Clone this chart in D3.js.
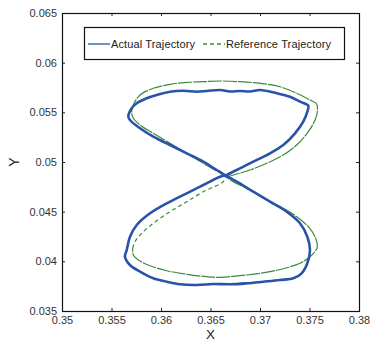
<!DOCTYPE html>
<html>
<head>
<meta charset="utf-8">
<script src="https://cdn.jsdelivr.net/npm/d3@7"></script>
<style>
  body { margin: 0; background: #fff; }
  text { font-family: "Liberation Sans", Arial, sans-serif; }
</style>
</head>
<body>
<div id="chart"></div>
<script>
// tick values
const xTicks = [0.35, 0.355, 0.36, 0.365, 0.37, 0.375, 0.38];
const yTicks = [0.035, 0.04, 0.045, 0.05, 0.055, 0.06, 0.065];

// reference trajectory (figure eight), solid looking part
const refSolid = [
  [0.36657, 0.048489], [0.36899, 0.049194], [0.37068, 0.049869], [0.37235, 0.050704],
  [0.37371, 0.051711], [0.37488, 0.053050], [0.37556, 0.054228], [0.37579, 0.055063],
  [0.37573, 0.055839], [0.37505, 0.056241], [0.37371, 0.056916], [0.37202, 0.057580],
  [0.37000, 0.057923], [0.36798, 0.058084], [0.36596, 0.058154], [0.36427, 0.058084],
  [0.36260, 0.058023], [0.36091, 0.057822], [0.35922, 0.057419], [0.35788, 0.056745],
  [0.35720, 0.055738], [0.35704, 0.055063], [0.35720, 0.054399], [0.35788, 0.053725],
  [0.35922, 0.052889], [0.36091, 0.051882], [0.36260, 0.050875], [0.36427, 0.049869],
  [0.36596, 0.048892], [0.36657, 0.048489], [0.36730, 0.048016], [0.36899, 0.047180],
  [0.37068, 0.046174], [0.37235, 0.045338], [0.37371, 0.044493], [0.37488, 0.043486],
  [0.37556, 0.042479], [0.37579, 0.041472], [0.37566, 0.041140], [0.37505, 0.040466],
  [0.37404, 0.039801], [0.37270, 0.039358], [0.37101, 0.038955], [0.36866, 0.038623],
  [0.36596, 0.038392], [0.36462, 0.038452], [0.36260, 0.038693], [0.36058, 0.039056],
  [0.35889, 0.039560], [0.35771, 0.040133], [0.35720, 0.040637], [0.35714, 0.041311]
];

// reference trajectory, lower-left branch where the dashes show
const refDashed = [
  [0.35714, 0.041311], [0.35737, 0.041976], [0.35805, 0.042821], [0.35922, 0.043828],
  [0.36091, 0.044996], [0.36260, 0.046003], [0.36427, 0.047010], [0.36629, 0.048016],
  [0.36657, 0.048489]
];

// measured (actual) trajectory
const actual = [
  [0.36664, 0.048691], [0.36798, 0.049365], [0.36932, 0.050030], [0.37101, 0.050875],
  [0.37235, 0.051711], [0.37354, 0.052889], [0.37437, 0.054057], [0.37478, 0.055063],
  [0.37488, 0.055667], [0.37404, 0.056070], [0.37303, 0.056573], [0.37169, 0.056916],
  [0.37000, 0.057248], [0.36899, 0.057097], [0.36798, 0.057147], [0.36697, 0.057097],
  [0.36596, 0.057248], [0.36462, 0.057147], [0.36361, 0.057077], [0.36225, 0.057178],
  [0.36091, 0.057077], [0.35957, 0.056745], [0.35856, 0.056412], [0.35755, 0.055909],
  [0.35704, 0.055406], [0.35670, 0.054560], [0.35687, 0.054228], [0.35788, 0.053392],
  [0.35922, 0.052547], [0.36091, 0.051711], [0.36260, 0.050875], [0.36427, 0.050030],
  [0.36563, 0.049194], [0.36664, 0.048590], [0.36765, 0.048016], [0.36932, 0.047010],
  [0.37101, 0.046003], [0.37270, 0.044996], [0.37404, 0.043828], [0.37478, 0.042479],
  [0.37505, 0.041140], [0.37478, 0.039801], [0.37421, 0.038794], [0.37336, 0.038291],
  [0.37202, 0.038120], [0.37033, 0.037949], [0.36866, 0.037788], [0.36697, 0.037687],
  [0.36528, 0.037717], [0.36361, 0.037617], [0.36192, 0.037687], [0.36058, 0.037949],
  [0.35922, 0.038291], [0.35788, 0.038955], [0.35687, 0.039630], [0.35636, 0.040466],
  [0.35654, 0.041140], [0.35687, 0.042479], [0.35755, 0.043657], [0.35889, 0.044835],
  [0.36058, 0.045842], [0.36260, 0.046848], [0.36427, 0.047684], [0.36596, 0.048520],
  [0.36664, 0.048691]
];

const margin = { top: 13, right: 11, bottom: 32, left: 62 },
      width = 370 - margin.left - margin.right,
      height = 343 - margin.top - margin.bottom;

const blue = "#2853a8", green = "#3a8a3e";

const svg = d3.select("#chart")
  .append("svg")
  .attr("width", width + margin.left + margin.right)
  .attr("height", height + margin.top + margin.bottom)
  .append("g")
  .attr("transform", `translate(${margin.left},${margin.top})`);

const x = d3.scaleLinear().domain([0.35, 0.38]).range([0, width]);
const y = d3.scaleLinear().domain([0.035, 0.065]).range([height, 0]);

const fmt = d => String(+d.toFixed(3));

// axes with inward ticks on all four sides
svg.append("g")
  .attr("transform", `translate(0,${height})`)
  .call(d3.axisBottom(x).tickValues(xTicks).tickFormat(fmt).tickSize(-3).tickPadding(5));
svg.append("g")
  .call(d3.axisLeft(y).tickValues(yTicks).tickFormat(fmt).tickSize(-3).tickPadding(5));
svg.append("g")
  .call(d3.axisTop(x).tickValues(xTicks).tickFormat("").tickSize(-3));
svg.append("g")
  .attr("transform", `translate(${width},0)`)
  .call(d3.axisRight(y).tickValues(yTicks).tickFormat("").tickSize(-3));

svg.selectAll(".domain").remove();
svg.selectAll(".tick line").attr("stroke", "#222");
svg.selectAll(".tick text")
  .attr("font-size", 11)
  .attr("font-family", "Liberation Sans, Arial, sans-serif")
  .attr("fill", "#333");

// frame
svg.append("rect")
  .attr("x", 0.5).attr("y", 0.5)
  .attr("width", width).attr("height", height)
  .attr("fill", "none")
  .attr("stroke", "#111")
  .attr("stroke-width", 1.2);

// axis titles
svg.append("text")
  .attr("x", width / 2)
  .attr("y", height + 28)
  .attr("text-anchor", "middle")
  .attr("font-size", 13.5)
  .attr("fill", "#222")
  .text("X");

svg.append("text")
  .attr("transform", "rotate(-90)")
  .attr("x", -y(0.05))
  .attr("y", -margin.left + 19)
  .attr("text-anchor", "middle")
  .attr("font-size", 14)
  .attr("fill", "#222")
  .text("Y");

const line = d3.line()
  .x(d => x(d[0]))
  .y(d => y(d[1]))
  .curve(d3.curveCatmullRom.alpha(0.5));

// reference trajectory
svg.append("path")
  .datum(refSolid)
  .attr("d", line)
  .attr("fill", "none")
  .attr("stroke", green)
  .attr("stroke-width", 1.2)
  .attr("stroke-dasharray", "14,1");

svg.append("path")
  .datum(refDashed)
  .attr("d", line)
  .attr("fill", "none")
  .attr("stroke", green)
  .attr("stroke-width", 1.2)
  .attr("stroke-dasharray", "4,3");

// actual trajectory
svg.append("path")
  .datum(actual)
  .attr("d", line)
  .attr("fill", "none")
  .attr("stroke", blue)
  .attr("stroke-width", 2.6)
  .attr("stroke-linejoin", "round");

// legend
const legend = svg.append("g")
  .attr("transform", `translate(${84 - margin.left},${27 - margin.top})`);

legend.append("rect")
  .attr("x", 0.5).attr("y", 0.5)
  .attr("width", 260).attr("height", 32)
  .attr("fill", "#fff")
  .attr("stroke", "#111")
  .attr("stroke-width", 1.2);

legend.append("line")
  .attr("x1", 4).attr("x2", 26)
  .attr("y1", 17).attr("y2", 17)
  .attr("stroke", blue)
  .attr("stroke-width", 1.3);

legend.append("text")
  .attr("x", 27).attr("y", 21)
  .attr("font-size", 11)
  .attr("fill", "#222")
  .attr("textLength", 84)
  .text("Actual Trajectory");

legend.append("line")
  .attr("x1", 119).attr("x2", 141)
  .attr("y1", 17).attr("y2", 17)
  .attr("stroke", green)
  .attr("stroke-width", 1.3)
  .attr("stroke-dasharray", "4,3");

legend.append("text")
  .attr("x", 142).attr("y", 21)
  .attr("font-size", 11)
  .attr("fill", "#222")
  .attr("textLength", 105)
  .text("Reference Trajectory");
</script>
</body>
</html>
